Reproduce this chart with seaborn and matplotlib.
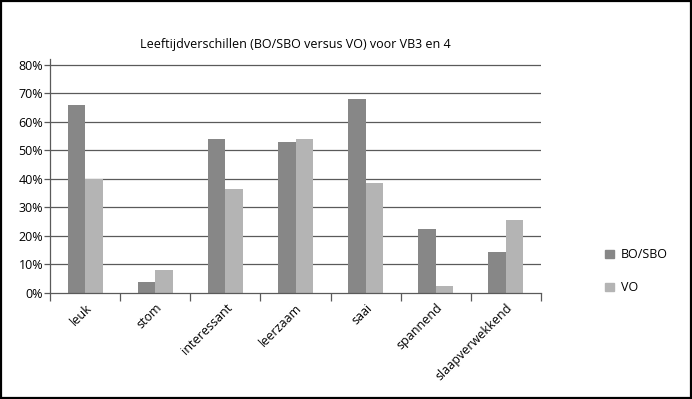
import numpy as np
import pandas as pd
import matplotlib
matplotlib.use("Agg")
import matplotlib.pyplot as plt
import seaborn as sns
from matplotlib.ticker import FixedLocator, PercentFormatter
from matplotlib.patches import Rectangle

# data
categories = ["leuk", "stom", "interessant", "leerzaam", "saai", "spannend", "slaapverwekkend"]
bo_sbo = [0.66, 0.04, 0.54, 0.53, 0.68, 0.225, 0.145]
vo = [0.40, 0.08, 0.365, 0.54, 0.385, 0.025, 0.255]
series = ["BO/SBO", "VO"]
colors = ["#878787", "#b4b4b4"]

df = pd.DataFrame({
    "categorie": categories * 2,
    "groep": [series[0]] * len(categories) + [series[1]] * len(categories),
    "waarde": bo_sbo + vo,
})

sns.set_theme(style="white")
plt.rcParams["font.family"] = ["Open Sans", "DejaVu Sans"]
plt.rcParams["text.color"] = "black"
plt.rcParams["xtick.color"] = "black"
plt.rcParams["ytick.color"] = "black"

fig = plt.figure(figsize=(6.92, 3.99), dpi=100)
ax = fig.add_axes([0.0723, 0.2657, 0.7095, 0.5857])

sns.barplot(data=df, x="categorie", y="waarde", hue="groep", palette=colors,
            width=0.5, gap=0, ax=ax, legend=False, linewidth=0, saturation=1)

ax.set_xlim(-0.5, len(categories) - 0.5)
ax.set_ylim(0, 0.82)
ax.set_yticks(np.arange(0, 0.81, 0.1))
ax.yaxis.set_major_formatter(PercentFormatter(1.0, decimals=0))
for y in np.arange(0.1, 0.81, 0.1):
    ax.axhline(y, color="#5a5a5a", lw=0.9, zorder=0)

ax.set_xlabel("")
ax.set_ylabel("")
ax.set_title("Leeftijdverschillen (BO/SBO versus VO) voor VB3 en 4", fontsize=9, pad=8)

for s in ["top", "right"]:
    ax.spines[s].set_visible(False)
for s in ["left", "bottom"]:
    ax.spines[s].set_color("#5a5a5a")
    ax.spines[s].set_linewidth(0.9)

ax.tick_params(axis="y", length=4, width=0.9, color="#5a5a5a", labelsize=9, pad=1, left=True)
ax.tick_params(axis="x", which="major", length=0, labelsize=9, pad=6)
ax.xaxis.set_minor_locator(FixedLocator(np.arange(-0.5, len(categories), 1.0)))
ax.tick_params(axis="x", which="minor", length=6, width=0.9, color="#5a5a5a", bottom=True)
plt.setp(ax.get_xticklabels(), rotation=45, ha="right", rotation_mode="anchor")

handles = [Rectangle((0, 0), 1, 1, color=c) for c in colors]
fig.legend(handles, series, loc="center left", bbox_to_anchor=(0.858, 0.32),
           frameon=False, fontsize=9, handlelength=0.7, handleheight=0.7,
           handletextpad=0.6, labelspacing=1.6)

# black frame round the picture
fig.patches.append(Rectangle((0.002, 0.003), 0.996, 0.994, transform=fig.transFigure,
                             fill=False, edgecolor="black", lw=1.6))

fig.savefig("out.png", dpi=100)
